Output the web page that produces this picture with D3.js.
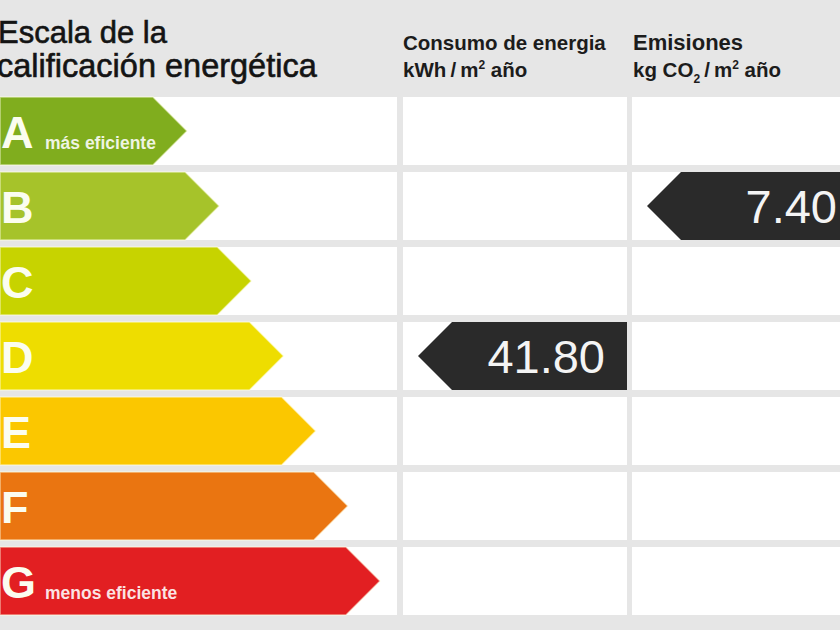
<!DOCTYPE html>
<html>
<head>
<meta charset="utf-8">
<script src="https://cdn.jsdelivr.net/npm/d3@7"></script>
<style>
  html, body { margin: 0; padding: 0; background: #e6e6e6; overflow: hidden; }
  svg { display: block; }
</style>
</head>
<body>
<svg id="chart" width="840" height="630"></svg>
<script>
// energy rating scale
var grades = ['A', 'B', 'C', 'D', 'E', 'F', 'G'];
var gradeColors = ['#80ad1e', '#a6c32a', '#c7d300', '#eedd00', '#fbc700', '#ea7511', '#e21f22'];
var gradeNotes = ['más eficiente', '', '', '', '', '', 'menos eficiente'];

// the two rated columns
var columnTitles = ['Consumo de energia', 'Emisiones'];
var columnUnits = [['kWh\u2009/\u2009m', '2', ' año'], ['kg CO', '2', '\u2009/\u2009m', '2', ' año']];
var columnValues = [41.80, 7.40];
var columnGrades = ['D', 'B'];

var W = 840, H = 630;
var svg = d3.select('#chart');

svg.append('rect')
    .attr('width', W).attr('height', H)
    .attr('fill', '#e6e6e6');

var y = d3.scaleBand()
    .domain(grades)
    .range([97, 615])
    .paddingInner(7 / 75);

// arrow tip of each grade bar
var tip = d3.scaleLinear()
    .domain([0, grades.length - 1])
    .range([187, 380]);

// cells: scale column + two value columns
var cols = d3.scaleOrdinal()
    .domain(['scale', 'consumo', 'emisiones'])
    .range([[0, 397], [403, 627], [632, 859]]);

var bh = y.bandwidth();
var depth = bh / 2;

// white cells
cols.domain().forEach(function (c) {
    var ext = cols(c);
    svg.append('g').selectAll('rect')
        .data(grades)
        .join('rect')
        .attr('x', ext[0])
        .attr('y', d => y(d))
        .attr('width', ext[1] - ext[0])
        .attr('height', bh)
        .attr('fill', '#ffffff');
});

// header
var title = svg.append('g')
    .attr('font-family', 'Liberation Sans, Arial, sans-serif')
    .attr('fill', '#141414')
    .attr('stroke', '#141414')
    .attr('stroke-width', 0.6);
title.append('text').attr('x', -2).attr('y', 43).attr('font-size', 31).text('Escala de la');
title.append('text').attr('x', -3).attr('y', 77).attr('font-size', 32.5).text('calificación energética');

var colKeys = ['consumo', 'emisiones'];
columnTitles.forEach(function (t, i) {
    var x0 = cols(colKeys[i])[0] + (i === 0 ? 0 : 1);
    var g = svg.append('g')
        .attr('font-family', 'Liberation Sans, Arial, sans-serif')
        .attr('font-weight', 'bold')
        .attr('font-size', 20.5)
        .attr('fill', '#1c1c1c');
    g.append('text').attr('x', x0).attr('y', 50)
        .attr('font-size', i === 0 ? 20.5 : 22)
        .text(t);
    var u = g.append('text').attr('x', x0).attr('y', 77);
    var shift = 0;
    columnUnits[i].forEach(function (part, k) {
        if (part === '2') {
            var sub = columnUnits[i][k - 1] === 'kg CO';
            var dy = sub ? 6 : -8;
            u.append('tspan')
                .attr('font-size', 12)
                .attr('dy', dy)
                .text(part);
            shift = dy;
        } else {
            u.append('tspan')
                .attr('dy', -shift)
                .text(part);
            shift = 0;
        }
    });
});

// grade bars
var bars = svg.append('g');
bars.selectAll('path')
    .data(grades)
    .join('path')
    .attr('d', function (d, i) {
        var t = tip(i), top = y(d), mid = top + bh / 2;
        return 'M0,' + top + 'H' + (t - depth) + 'L' + t + ',' + mid +
            'L' + (t - depth) + ',' + (top + bh) + 'H0Z';
    })
    .attr('fill', (d, i) => gradeColors[i])
    .attr('stroke', 'rgba(255,255,230,0.55)')
    .attr('stroke-width', 1.5);

bars.selectAll('text.letter')
    .data(grades)
    .join('text')
    .attr('class', 'letter')
    .attr('x', 1)
    .attr('y', d => y(d) + bh / 2 + 17)
    .attr('font-family', 'Liberation Sans, Arial, sans-serif')
    .attr('font-weight', 'bold')
    .attr('font-size', 45)
    .attr('fill', '#fbfdf0')
    .text(d => d);

bars.selectAll('text.note')
    .data(grades)
    .join('text')
    .attr('class', 'note')
    .attr('x', 45)
    .attr('y', d => y(d) + bh / 2 + 18)
    .attr('font-family', 'Liberation Sans, Arial, sans-serif')
    .attr('font-weight', 'bold')
    .attr('font-size', 17.5)
    .attr('fill', 'rgba(255,255,255,0.88)')
    .text((d, i) => gradeNotes[i]);

// value markers
colKeys.forEach(function (c, i) {
    var ext = cols(c);
    var top = y(columnGrades[i]);
    var t = ext[0] + 15;
    var mid = top + bh / 2;
    svg.append('path')
        .attr('d', 'M' + t + ',' + mid + 'L' + (t + depth) + ',' + top + 'H' + ext[1] +
            'V' + (top + bh) + 'H' + (t + depth) + 'Z')
        .attr('fill', '#2a2a2a');
    svg.append('text')
        .attr('x', ext[1] - 22)
        .attr('y', mid + 17)
        .attr('text-anchor', 'end')
        .attr('font-family', 'Liberation Sans, Arial, sans-serif')
        .attr('font-size', 47)
        .attr('fill', '#f4f4f4')
        .text(d3.format('.2f')(columnValues[i]));
});
</script>
</body>
</html>
